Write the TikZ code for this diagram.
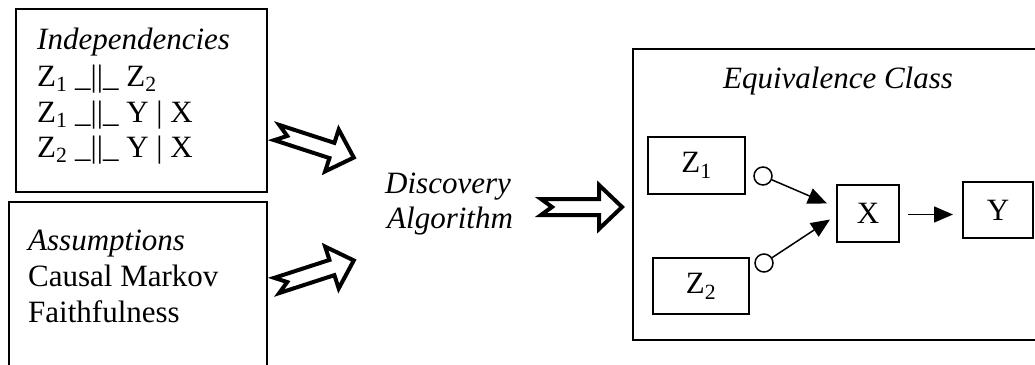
\documentclass[tikz,border=0pt]{standalone}
\usepackage{fontspec}
\setmainfont{Liberation Serif}
\usetikzlibrary{arrows.meta}
\newcommand\diagfont{\fontsize{31pt}{36pt}\selectfont}
\tikzset{
  txt/.style={font=\diagfont, inner sep=0pt, anchor=base west},
  frame/.style={draw, line width=2pt, inner sep=0pt, anchor=north west},
  var/.style={draw, line width=2pt, inner sep=0pt, anchor=north west, font=\diagfont},
  endmark/.style={draw, circle, line width=1.5pt, minimum size=18pt, inner sep=0pt},
  conn/.style={line width=1.5pt, -{Triangle[length=19pt,width=16pt]}},
  fatarrow/.pic={
    \draw[line width=4pt, line join=miter, fill=white]
      (5,8) -- (63,8) -- (63,22) -- (86,0) -- (63,-22) -- (63,-8)
      -- (5,-8) -- (16,0) -- cycle;
  }
}
\begin{document}
\begin{tikzpicture}[x=1pt, y=-1pt]
\useasboundingbox (0,0) rectangle (1035,364);
\clip (0,0) rectangle (1035,364);

% input boxes
\node[frame, minimum width=251pt, minimum height=183pt] (indbox) at (15,8) {};
\node[frame, minimum width=258pt, minimum height=172pt] (asmbox) at (8,201) {};

\node[txt] (ind0) at (37,49)  {\itshape Independencies};
\node[txt] (ind1) at (37,86)  {Z\textsubscript{1} \_||\_ Z\textsubscript{2}};
\node[txt] (ind2) at (37,122) {Z\textsubscript{1} \_||\_ Y | X};
\node[txt] (ind3) at (37,157) {Z\textsubscript{2} \_||\_ Y | X};

\node[txt] (asm0) at (28,250) {\itshape Assumptions};
\node[txt] (asm1) at (28,286) {Causal Markov};
\node[txt] (asm2) at (28,322) {Faithfulness};

% algorithm
\node[txt] (alg1) at (385,193) {\itshape Discovery};
\node[txt] (alg2) at (387,228) {\itshape Algorithm};

% block arrows
\pic[rotate=-18] at (272,131) {fatarrow};
\pic[rotate=18]  at (272,287) {fatarrow};
\pic at (536,207) {fatarrow};

% output: equivalence class
\node[frame, minimum width=410pt, minimum height=291pt] (eqbox) at (632,48) {};
\node[txt, anchor=base] (eqtitle) at (838,88) {\itshape Equivalence Class};

\node[var, minimum width=97pt, minimum height=57pt] (z1) at (647,136) {Z\textsubscript{1}};
\node[var, minimum width=96pt, minimum height=56pt] (z2) at (652,257) {Z\textsubscript{2}};
\node[var, minimum width=62pt, minimum height=57pt] (x)  at (836,184) {X};
\node[var, minimum width=70pt, minimum height=56pt] (y)  at (962,181) {Y};

\node[endmark] (c1) at (763,176) {};
\node[endmark] (c2) at (764,263) {};

\draw[conn] (c1) -- ([shift={(-9,-10)}]x.west);
\draw[conn] (c2) -- ([shift={(-6,6)}]x.west);
\draw[conn] ([shift={(8,1)}]x.east) -- ([shift={(-9,1)}]y.west |- x.east);
\end{tikzpicture}
\end{document}
